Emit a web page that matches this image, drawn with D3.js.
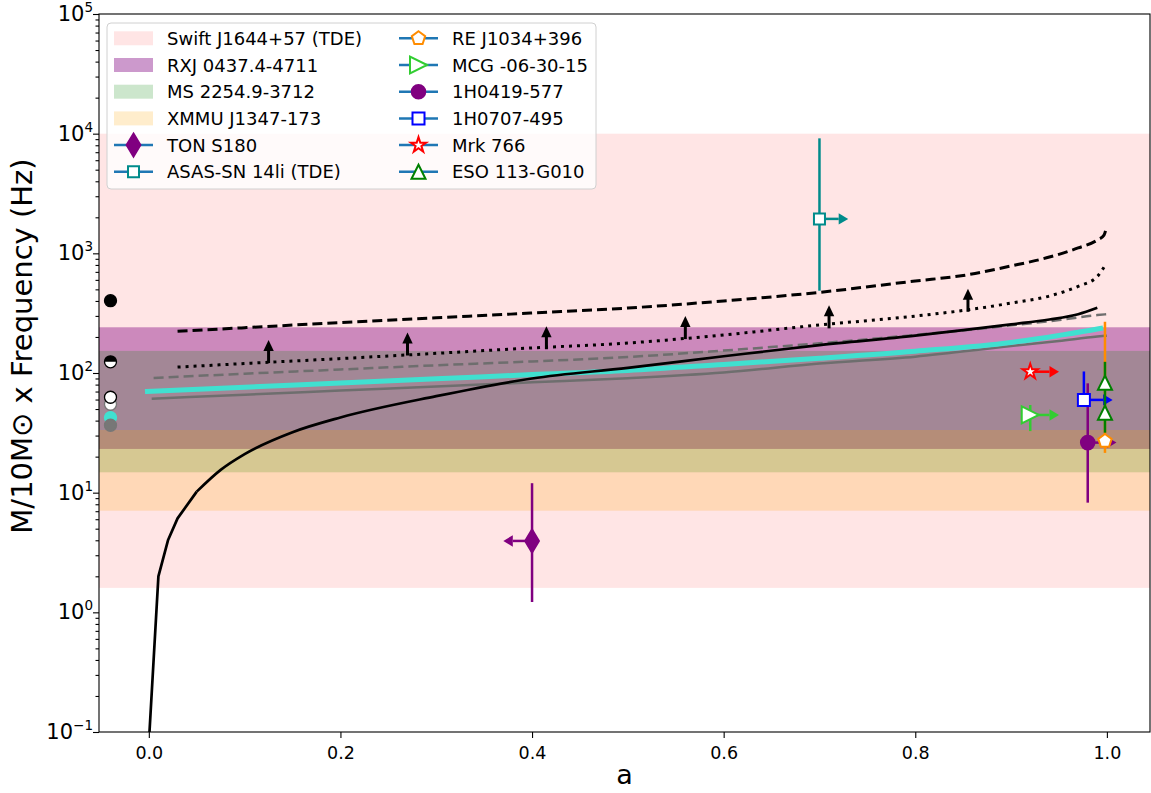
<!DOCTYPE html>
<meta charset="utf-8">
<style>
  body { margin: 0; background: #fff; }
  svg text { font-family: "DejaVu Sans", sans-serif; fill: #000; }
  .axis path, .axis line { stroke: #000; stroke-width: 1.1; }
  .axis text { font-size: 17.5px; }
</style>
<body>
<script src="https://d3js.org/d3.v7.min.js"></script>
<script>

// shaded frequency ranges of the sources (Hz)
var bandNames  = ["Swift J1644+57 (TDE)", "RXJ 0437.4-4711", "MS 2254.9-3712", "XMMU J1347-173"];
var bandLow    = [1.6, 23.2, 14.8, 7.07];
var bandHigh   = [10000, 241, 153, 33.4];

// model curves, spin a -> frequency
var solidSpin = [0, 0.01, 0.02, 0.03, 0.05, 0.075, 0.1, 0.15, 0.2, 0.3, 0.4, 0.5, 0.6, 0.7, 0.8, 0.85, 0.9, 0.94, 0.97, 0.99];
var solidFreq = [0.08, 2.0, 4.0, 6.1, 10.2, 15.5, 21, 32, 42.5, 64, 90, 110.5, 138, 171, 205, 228, 255, 280, 310, 351];

var dashSpin = [0.03, 0.1, 0.2, 0.3, 0.4, 0.5, 0.6, 0.7, 0.8, 0.85, 0.9, 0.94, 0.97, 0.99, 0.997, 0.9995];
var dashFreq = [223, 239, 264, 289, 317, 349, 400, 472, 587, 653, 784, 931, 1109, 1290, 1420, 1650];

var dotSpin = [0.03, 0.1, 0.2, 0.3, 0.4, 0.5, 0.6, 0.7, 0.8, 0.85, 0.9, 0.94, 0.97, 0.99, 0.9995];
var dotFreq = [112, 120, 132, 146, 162, 178, 208, 252, 299, 333, 384, 440, 530, 640, 830];

var greyDashSpin = [0.005, 0.1, 0.2, 0.3, 0.4, 0.5, 0.6, 0.7, 0.8, 0.9, 0.95, 0.99, 1.0];
var greyDashFreq = [91, 98.6, 107, 116, 125, 136, 154, 177, 208, 250, 277, 305, 310];

var cyanSpin = [-0.004, 0.1, 0.2, 0.3, 0.4, 0.5, 0.6, 0.7, 0.8, 0.9, 0.95, 0.99, 0.996];
var cyanFreq = [70, 76, 82.6, 89.5, 97, 105, 118, 133, 152, 180, 206, 233, 238];

var greySpin = [0.003, 0.1, 0.2, 0.3, 0.4, 0.5, 0.6, 0.7, 0.8, 0.9, 0.95, 0.99, 1.0];
var greyFreq = [61, 65.9, 71.3, 77.1, 83.5, 90.5, 101, 120, 137, 168, 185, 202, 205];

// lower-limit arrows sitting on the dotted curve
var limitSpin = [0.125, 0.27, 0.415, 0.56, 0.71, 0.855];
var limitFreq = [121, 140, 158, 192, 236, 325];

// values at a = 0 shown at the left edge
var zeroSpin = -0.04;
var zeroFreq = [402, 124, 54.8, 62.7, 42.4, 36.6];

// observed sources
var pointNames   = ["TON S180", "ASAS-SN 14li (TDE)", "RE J1034+396", "MCG -06-30-15", "1H0419-577", "1H0707-495", "Mrk 766", "ESO 113-G010", "ESO 113-G010"];
var pointSpin    = [0.40, 0.70, 0.998, 0.92, 0.98, 0.976, 0.92, 0.998, 0.998];
var pointSpinLim = [-0.03, 0.03, 0, 0.03, 0.03, 0.03, 0.03, 0, 0];
var pointFreq    = [3.95, 1940, 27, 44.6, 26.2, 59.6, 102.5, 83, 46.5];
var pointLow     = [1.22, 487, 21.5, 32.7, 8.25, 56, null, 58, 31.7];
var pointHigh    = [12, 9140, 268, 54, 82, 103, null, 124, 58];

var yTicks = [0.1, 1, 10, 100, 1000, 10000, 100000];
var yTickExp = ["\u22121", "0", "1", "2", "3", "4", "5"];
var xTicks = [0, 0.2, 0.4, 0.6, 0.8, 1.0];

var bandStyle = [
  {color: "#ff0000", alpha: 0.1},
  {color: "#800080", alpha: 0.4},
  {color: "#008000", alpha: 0.2},
  {color: "#ffa500", alpha: 0.2}
];

var pointStyle = {
  "TON S180":           {shape: "thin_diamond",   r: 11.5, color: "#800080", fill: "#800080"},
  "ASAS-SN 14li (TDE)": {shape: "square",         r: 5.5,  color: "#008b8b", fill: "#fff"},
  "RE J1034+396":       {shape: "pentagon",       r: 7,    color: "#ff8c00", fill: "#fff"},
  "MCG -06-30-15":      {shape: "triangle_right", r: 8.5,  color: "#32cd32", fill: "#fff"},
  "1H0419-577":         {shape: "circle",         r: 6.8,  color: "#800080", fill: "#800080"},
  "1H0707-495":         {shape: "square",         r: 6,    color: "#0000ff", fill: "#fff"},
  "Mrk 766":            {shape: "star",           r: 8,    color: "#ff0000", fill: "#fff"},
  "ESO 113-G010":       {shape: "triangle_up",    r: 7,    color: "#008000", fill: "#fff"}
};

var margin = {top: 14, right: 1, bottom: 61, left: 99},
    width = 1151 - margin.left - margin.right,
    height = 793 - margin.top - margin.bottom;

var x = d3.scaleLinear().domain([-0.052, 1.045]).range([0, width]);
var y = d3.scaleLog().domain([0.1, 1e5]).range([height, 0]);

var svg = d3.select("body")
            .append("svg")
            .attr("width", 1151)
            .attr("height", 793)
            .append("g")
            .attr("transform", "translate(" + margin.left + "," + margin.top + ")");

svg.append("clipPath").attr("id", "plotclip")
   .append("rect").attr("width", width).attr("height", height);

var plot = svg.append("g").attr("clip-path", "url(#plotclip)");

function polygon(pts) {
  return "M" + pts.map(function(p) { return p[0].toFixed(2) + "," + p[1].toFixed(2); }).join("L") + "Z";
}

function shapePath(shape, r) {
  var pts = [], i, ang;
  if (shape == "circle") {
    return "M" + (-r) + ",0A" + r + "," + r + " 0 1,1 " + r + ",0A" + r + "," + r + " 0 1,1 " + (-r) + ",0Z";
  }
  if (shape == "square") return polygon([[-r, -r], [r, -r], [r, r], [-r, r]]);
  if (shape == "thin_diamond") return polygon([[0, -r], [0.6 * r, 0], [0, r], [-0.6 * r, 0]]);
  if (shape == "triangle_up") return polygon([[0, -r], [r, r], [-r, r]]);
  if (shape == "triangle_right") return polygon([[r, 0], [-r, -r], [-r, r]]);
  if (shape == "pentagon") {
    for (i = 0; i < 5; i++) {
      ang = -Math.PI / 2 + i * 2 * Math.PI / 5;
      pts.push([r * Math.cos(ang), r * Math.sin(ang)]);
    }
    return polygon(pts);
  }
  if (shape == "star") {
    for (i = 0; i < 10; i++) {
      ang = -Math.PI / 2 + i * Math.PI / 5;
      var rr = i % 2 ? r * 0.382 : r;
      pts.push([rr * Math.cos(ang), rr * Math.sin(ang)]);
    }
    return polygon(pts);
  }
}

function drawMarker(g, cx, cy, st) {
  g.append("path")
   .attr("d", shapePath(st.shape, st.r))
   .attr("transform", "translate(" + cx + "," + cy + ")")
   .attr("fill", st.fill)
   .attr("stroke", st.color)
   .attr("stroke-width", 2)
   .attr("stroke-linejoin", "miter");
}

function hArrow(g, x0, x1, yy, color) {
  var dir = x1 > x0 ? 1 : -1, head = 9.5, hw = 5.7;
  g.append("line")
   .attr("x1", x0).attr("x2", x1 - dir * head)
   .attr("y1", yy).attr("y2", yy)
   .attr("stroke", color).attr("stroke-width", 2.5);
  g.append("path")
   .attr("d", polygon([[x1, yy], [x1 - dir * head, yy - hw], [x1 - dir * head, yy + hw]]))
   .attr("fill", color);
}

// bands
plot.selectAll("rect.band")
    .data(bandNames)
  .enter().append("rect")
    .attr("class", "band")
    .attr("x", 0)
    .attr("width", width)
    .attr("y", function(d, i) { return y(bandHigh[i]); })
    .attr("height", function(d, i) { return y(bandLow[i]) - y(bandHigh[i]); })
    .attr("fill", function(d, i) { return bandStyle[i].color; })
    .attr("fill-opacity", function(d, i) { return bandStyle[i].alpha; });

var line = d3.line()
    .curve(d3.curveMonotoneX)
    .x(function(d) { return x(d[0]); })
    .y(function(d) { return y(d[1]); });

// the coarse samples near a = 0 show up as straight pieces
var polyline = d3.line()
    .x(function(d) { return x(d[0]); })
    .y(function(d) { return y(d[1]); });

function curve(pts, color, w, dash, gen) {
  plot.append("path")
      .datum(pts)
      .attr("d", gen || line)
      .attr("fill", "none")
      .attr("stroke", color)
      .attr("stroke-width", w)
      .attr("stroke-dasharray", dash)
      .attr("stroke-linejoin", "round");
}

var solidPts = d3.zip(solidSpin, solidFreq);

curve(d3.zip(greySpin, greyFreq), "#6e6e6e", 2.5, null);
curve(d3.zip(cyanSpin, cyanFreq), "#40e0d0", 5, null);
curve(d3.zip(greyDashSpin, greyDashFreq), "#6e6e6e", 2.5, "10,5");
curve(d3.zip(dotSpin, dotFreq), "#000", 3, "3,5");
curve(d3.zip(dashSpin, dashFreq), "#000", 3, "10,5");
curve(solidPts.slice(0, 5), "#000", 2.7, null, polyline);
curve(solidPts.slice(4), "#000", 2.7, null);

// upward arrows on the dotted curve
limitSpin.forEach(function(a, i) {
  var cx = x(a), by = y(limitFreq[i]), ty = by - 23;
  plot.append("line")
      .attr("x1", cx).attr("x2", cx)
      .attr("y1", by).attr("y2", ty + 10)
      .attr("stroke", "#000").attr("stroke-width", 3);
  plot.append("path")
      .attr("d", polygon([[cx, ty], [cx - 5.2, ty + 11], [cx + 5.2, ty + 11]]))
      .attr("fill", "#000");
});

// a = 0 values
var zeroStyle = [
  {fill: "#000", stroke: "#000"},
  {fill: "half", stroke: "#000"},
  {fill: "#fff", stroke: "#777"},
  {fill: "#fff", stroke: "#000"},
  {fill: "#40e0d0", stroke: "#40e0d0"},
  {fill: "#777", stroke: "#777"}
];
zeroFreq.forEach(function(f, i) {
  var cx = x(zeroSpin), cy = y(f), st = zeroStyle[i], r = 6;
  plot.append("circle")
      .attr("cx", cx).attr("cy", cy).attr("r", r)
      .attr("fill", st.fill == "half" ? "#fff" : st.fill)
      .attr("stroke", st.stroke).attr("stroke-width", 1.3);
  if (st.fill == "half") {
    plot.append("path")
        .attr("d", "M" + (cx - r) + "," + cy + "A" + r + "," + r + " 0 0,1 " + (cx + r) + "," + cy + "Z")
        .attr("fill", "#000");
  }
});

// error bars and spin limit arrows
pointNames.forEach(function(name, i) {
  var st = pointStyle[name], cx = x(pointSpin[i]), cy = y(pointFreq[i]);
  if (pointLow[i] != null) {
    plot.append("line")
        .attr("x1", cx).attr("x2", cx)
        .attr("y1", y(pointLow[i])).attr("y2", y(pointHigh[i]))
        .attr("stroke", st.color).attr("stroke-width", 2.5);
  }
  if (pointSpinLim[i] != 0) {
    hArrow(plot, cx, x(pointSpin[i] + pointSpinLim[i]), cy, st.color);
  }
});

// markers on top
pointNames.forEach(function(name, i) {
  drawMarker(plot, x(pointSpin[i]), y(pointFreq[i]), pointStyle[name]);
});

// axes
var xAxis = d3.axisBottom(x).tickValues(xTicks).tickFormat(d3.format(".1f")).tickSize(6).tickSizeOuter(0);
var gx = svg.append("g").attr("class", "axis")
    .attr("transform", "translate(0," + height + ")")
    .call(xAxis);
gx.select(".domain").remove();
gx.selectAll("text").attr("y", 27).attr("dy", null);

var minorTicks = [];
yTicks.slice(0, -1).forEach(function(d) {
  for (var k = 2; k < 10; k++) minorTicks.push(d * k);
});
var gyMinor = svg.append("g").attr("class", "axis")
    .call(d3.axisLeft(y).tickValues(minorTicks).tickFormat("").tickSize(3.5).tickSizeOuter(0));
gyMinor.select(".domain").remove();
var gy = svg.append("g").attr("class", "axis")
    .call(d3.axisLeft(y).tickValues(yTicks).tickFormat("").tickSize(6).tickSizeOuter(0));
gy.select(".domain").remove();

var ylab = svg.append("g").selectAll("text")
    .data(yTicks)
  .enter().append("text")
    .attr("x", -6)
    .attr("y", function(d) { return y(d) + 7; })
    .attr("text-anchor", "end");
ylab.append("tspan").style("font-size", "21px").text("10");
ylab.append("tspan").style("font-size", "13.5px").attr("dy", -9)
    .text(function(d, i) { return yTickExp[i]; });

svg.append("rect")
   .attr("width", width).attr("height", height)
   .attr("fill", "none").attr("stroke", "#000").attr("stroke-width", 1.1);

svg.append("text")
   .attr("x", width / 2).attr("y", height + 52)
   .attr("text-anchor", "middle")
   .style("font-size", "27px")
   .text("a");

svg.append("text")
   .attr("transform", "translate(" + (32 - margin.left) + "," + (346 - margin.top) + ") rotate(-90)")
   .attr("text-anchor", "middle")
   .style("font-size", "29px")
   .text("M/10M\u2299 x Frequency (Hz)");

// legend
var legendItems = bandNames.concat(pointNames.filter(function(d, i) { return pointNames.indexOf(d) == i; }));
var legend = svg.append("g").attr("transform", "translate(" + (107 - margin.left) + "," + (23 - margin.top) + ")");
legend.append("rect")
      .attr("width", 489).attr("height", 166).attr("rx", 4)
      .attr("fill", "#fff").attr("fill-opacity", 0.8)
      .attr("stroke", "#d0d0d0").attr("stroke-width", 1);

legendItems.forEach(function(name, i) {
  var col = i < 6 ? 0 : 1, row = i % 6;
  var hx = col ? 292 : 7, cy = 15.3 + row * 26.7, hw = 39;
  var bi = bandNames.indexOf(name);
  if (bi >= 0) {
    legend.append("rect")
          .attr("x", hx).attr("y", cy - 7).attr("width", hw).attr("height", 14)
          .attr("fill", bandStyle[bi].color).attr("fill-opacity", bandStyle[bi].alpha);
  } else {
    legend.append("line")
          .attr("x1", hx).attr("x2", hx + hw).attr("y1", cy).attr("y2", cy)
          .attr("stroke", "#1f77b4").attr("stroke-width", 2.5);
    drawMarker(legend, hx + hw / 2, cy, pointStyle[name]);
  }
  legend.append("text")
        .attr("x", hx + 53).attr("y", cy + 6.5)
        .style("font-size", "18px")
        .text(name);
});

</script>
</body>
